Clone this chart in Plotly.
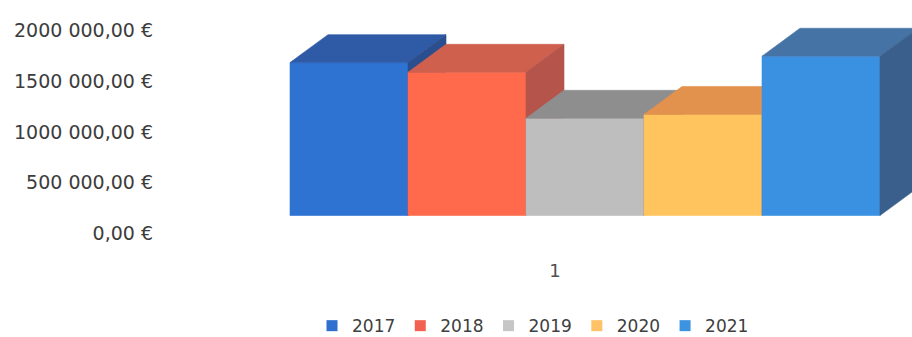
import plotly.graph_objects as go

# Yearly totals (EUR) drawn as Excel-style 3D columns in one category
years = ["2017", "2018", "2019", "2020", "2021"]
totals = [1505000, 1410000, 957000, 995000, 1568000]
category_label = "1"

tick_values = [0, 500000, 1000000, 1500000, 2000000]
tick_labels = ["0,00 €", "500 000,00 €", "1000 000,00 €", "1500 000,00 €", "2000 000,00 €"]

# Colours per year: front, top and right-side faces
front_colors = ["#2E72D2", "#FF6A4C", "#BEBEBE", "#FFC45E", "#3A91E2"]
top_colors = ["#2F5AA6", "#CF604E", "#8E8E8E", "#E3924E", "#4673A6"]
side_colors = ["#2A4E8E", "#B4544A", "#767676", "#C8803F", "#3B5F8C"]
legend_colors = ["#2E6FCF", "#F26050", "#C6C6C6", "#FFC266", "#3C93E0"]

# Box geometry in axis units: one unit per column, plus the receding depth
BAR_W = 1.0
DEPTH_X = 0.322
DEPTH_Y = 275000

FONT = "DejaVu Sans"

fig = go.Figure()

for i, (yr, v) in enumerate(zip(years, totals)):
    x0 = i * BAR_W
    x1 = x0 + BAR_W
    faces = [
        ([x0, x1, x1, x0, x0], [0, 0, v, v, 0], front_colors[i]),
        ([x0, x1, x1 + DEPTH_X, x0 + DEPTH_X, x0],
         [v, v, v + DEPTH_Y, v + DEPTH_Y, v], top_colors[i]),
        ([x1, x1 + DEPTH_X, x1 + DEPTH_X, x1, x1],
         [0, DEPTH_Y, v + DEPTH_Y, v, 0], side_colors[i]),
    ]
    for xs, ys, col in faces:
        fig.add_trace(go.Scatter(
            x=xs, y=ys, mode="lines", fill="toself", fillcolor=col,
            line=dict(color=col, width=0.6), showlegend=False,
            hoverinfo="skip",
        ))

# Legend entries: small coloured squares
for yr, col in zip(years, legend_colors):
    fig.add_trace(go.Scatter(
        x=[None], y=[None], mode="markers", name=yr,
        marker=dict(symbol="square", size=11, color=col),
    ))

px_per_unit = 118.0
left_px, plot_left, plot_right = 290.0, 154.0, 912.0
x_range = [(plot_left - left_px) / px_per_unit, (plot_right - left_px) / px_per_unit]

zero_px, plot_bottom = 215.5, 258.0
px_per_eur = 101.6e-6
y_range = [(zero_px - plot_bottom) / px_per_eur, zero_px / px_per_eur]

fig.update_layout(
    width=912, height=337,
    margin=dict(l=int(plot_left), r=0, t=0, b=337 - int(plot_bottom), autoexpand=False),
    paper_bgcolor="white", plot_bgcolor="white",
    font=dict(family=FONT, color="#404040"),
    xaxis=dict(
        range=x_range, showgrid=False, zeroline=False, showline=False,
        tickmode="array", tickvals=[len(years) * BAR_W / 2], ticktext=[category_label],
        ticklabelshift=-30, tickfont=dict(size=18, color="#505050"), fixedrange=True,
        automargin=False,
    ),
    yaxis=dict(
        range=y_range, showgrid=False, zeroline=False, showline=False,
        tickmode="array", tickvals=tick_values, ticktext=tick_labels,
        ticklabelshift=18, tickfont=dict(size=19, color="#3C3C3C"), fixedrange=True,
        automargin=False,
    ),
    legend=dict(
        orientation="h", x=0.5, xanchor="center", y=-0.264, yanchor="middle",
        font=dict(size=17, color="#404040"), bgcolor="rgba(0,0,0,0)",
        tracegroupgap=0,
    ),
    showlegend=True,
)

fig.write_html("out.html")
